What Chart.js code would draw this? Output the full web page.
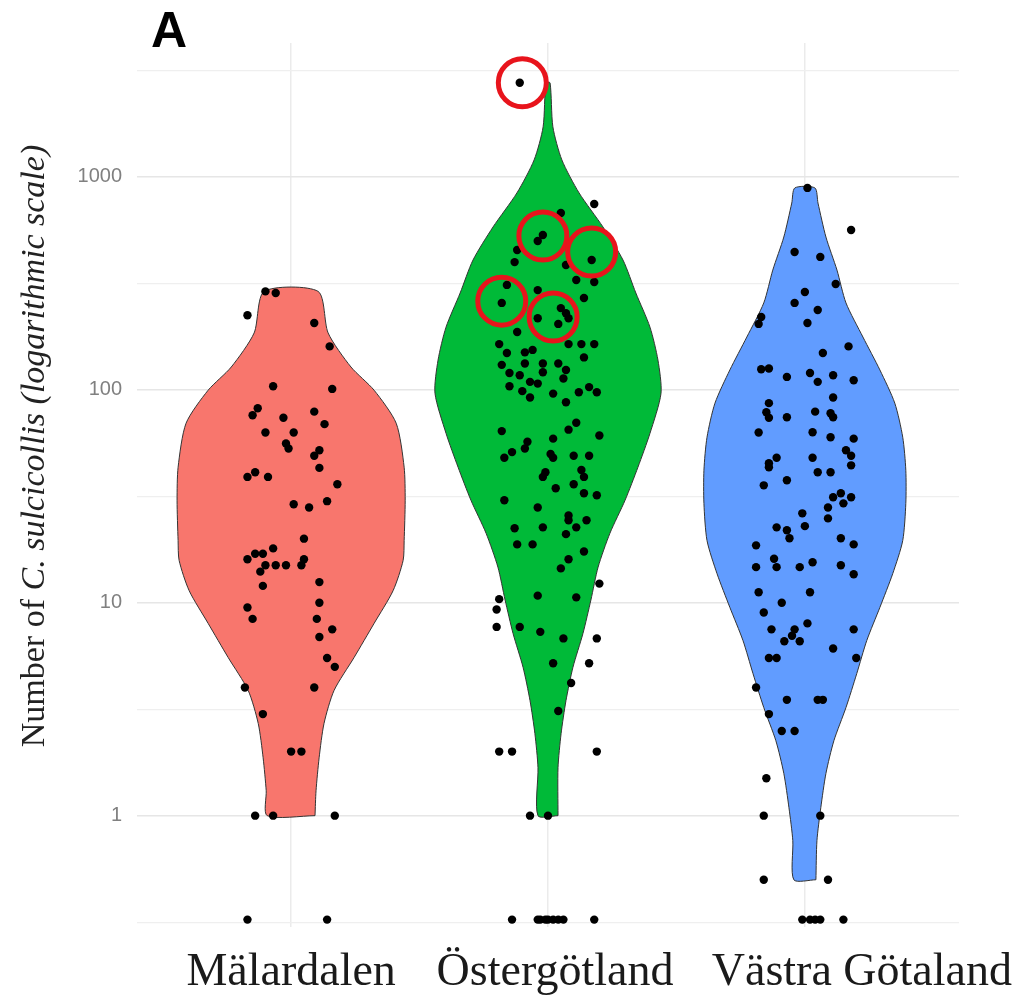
<!DOCTYPE html>
<html>
<head>
<meta charset="utf-8">
<script src="https://cdn.jsdelivr.net/npm/chart.js@4.4.1/dist/chart.umd.min.js"></script>
<style>
  html, body { margin: 0; padding: 0; background: #fff; }
  #wrap { width: 1015px; height: 995px; position: relative; }
</style>
</head>
<body>
<div id="wrap"><canvas id="violinChart"></canvas></div>
<script>
  const regions = ["Mälardalen", "Östergötland", "Västra Götaland"];
  const regionColors = ["#F8766D", "#00BA38", "#619CFF"];

  // y axis (log), limits as in the figure
  const yMin = 0.325, yMax = 4256;
  const yMajor = [1, 10, 100, 1000];
  const yMinor = [0.316, 3.16, 31.6, 316, 3162];

  // violin outlines: count level + half width (category units)
  const malLevels = [1, 1.31, 1.87, 2.71, 3.87, 5.53, 8.0, 11.4, 15.8, 19.6, 30.3, 43.3, 69.7, 99.6, 128, 185, 290];
  const malWidths = [0.093, 0.097, 0.109, 0.128, 0.167, 0.245, 0.323, 0.397, 0.436, 0.44, 0.444, 0.44, 0.409, 0.323, 0.233, 0.144, 0.105];
  const ostLevels = [1, 1.68, 2.43, 3.47, 4.97, 7.17, 10.3, 14.7, 21.2, 30.3, 43.3, 62.5, 96.4, 138, 197, 285, 407, 582, 841, 1202, 1719, 2767];
  const ostWidths = [0.039, 0.039, 0.051, 0.07, 0.097, 0.136, 0.167, 0.195, 0.241, 0.3, 0.35, 0.397, 0.44, 0.428, 0.397, 0.342, 0.292, 0.214, 0.121, 0.054, 0.019, 0.008];
  const vgLevels = [0.5, 0.763, 1.09, 1.58, 2.25, 3.22, 4.65, 6.65, 9.51, 13.7, 19.6, 29.3, 41.9, 59.9, 86.6, 124, 177, 256, 365, 522, 754, 888];
  const vgWidths = [0.043, 0.047, 0.062, 0.082, 0.113, 0.16, 0.202, 0.241, 0.292, 0.342, 0.381, 0.393, 0.393, 0.381, 0.35, 0.292, 0.226, 0.16, 0.125, 0.082, 0.051, 0.039];

  // jittered observations: horizontal jitter + count
  const malJitter = [-0.10, -0.06, -0.17, 0.09, 0.15, -0.07, 0.16, -0.13, -0.15, -0.03, 0.09, 0.13, -0.10, 0.01, -0.02, -0.01, 0.11, 0.09, 0.11, -0.17, -0.14, -0.09, 0.18, 0.01, 0.07, 0.14, 0.05, -0.17, -0.14, -0.11, -0.07, 0.05, 0.04, -0.12, -0.10, -0.06, -0.02, -0.11, 0.11, 0.11, -0.17, -0.15, 0.10, 0.16, 0.11, 0.14, 0.17, -0.18, 0.09, -0.11, 0.00, 0.04, -0.14, -0.07, 0.17, -0.17, 0.14];
  const malCounts = [290, 285, 224, 206, 160, 104, 101, 82, 76, 74, 79, 69, 63, 63, 56, 53, 52, 49, 43, 39, 41, 39, 36, 29, 28, 30, 20, 16, 17, 17, 18, 16, 15, 14, 15, 15, 15, 12, 12.5, 10, 9.5, 8.4, 8.4, 7.5, 6.9, 5.5, 5, 4, 4, 3, 2, 2, 1, 1, 1, 0, 0];

  const ostJitter = [-0.11, 0.18, 0.05, -0.02, -0.04, -0.12, -0.13, 0.17, 0.07, 0.11, 0.18, -0.16, -0.04, -0.18, 0.14, 0.05, 0.07, 0.08, -0.04, 0.04, -0.12, -0.19, -0.16, -0.09, -0.06, 0.08, 0.13, 0.18, 0.14, -0.18, -0.15, -0.09, -0.02, -0.02, 0.04, 0.07, 0.06, -0.11, -0.07, -0.04, -0.15, -0.10, -0.07, 0.02, 0.07, 0.12, 0.16, 0.19, -0.18, 0.11, 0.08, 0.20, -0.08, -0.09, 0.02, -0.14, -0.17, 0.01, 0.02, 0.10, 0.16, -0.01, -0.02, 0.13, 0.14, 0.10, 0.03, 0.14, 0.19, -0.17, -0.04, 0.08, 0.08, -0.13, -0.02, 0.15, 0.07, 0.11, -0.12, -0.06, 0.14, 0.08, 0.05, 0.20, -0.19, -0.20, -0.20, -0.04, 0.11, -0.11, -0.03, 0.06, 0.19, 0.02, 0.16, 0.09, 0.04, -0.19, -0.14, 0.19, -0.07, 0.00, -0.14, -0.04, -0.03, -0.01, 0.00, 0.02, 0.04, 0.06, 0.18];
  const ostCounts = [2767, 746, 677, 534, 500, 454, 398, 407, 386, 328, 321, 311, 294, 256, 270, 242, 229, 217, 217, 204, 187, 164, 149, 150, 154, 164, 164, 164, 142, 131, 120, 133, 133, 121, 133, 124, 113, 117, 109, 107, 104, 98.6, 92, 96, 87.5, 97.5, 103, 97.5, 64, 70, 65, 61, 57, 53, 59, 51, 48, 50, 48, 49, 49, 41, 39, 42, 39, 36, 34.5, 32.7, 32, 30.3, 28, 25.7, 24.4, 22.4, 22.6, 24.4, 21, 22.6, 18.8, 18.8, 17.4, 16, 14.5, 12.3, 10.4, 9.3, 7.7, 10.8, 10.6, 7.7, 7.3, 6.8, 6.8, 5.2, 5.2, 4.2, 3.1, 2, 2, 2, 1, 1, 0, 0, 0, 0, 0, 0, 0, 0, 0];

  const vgJitter = [0.01, 0.18, -0.04, 0.06, 0.12, 0.00, -0.04, 0.05, -0.17, -0.18, 0.01, 0.17, 0.07, -0.17, -0.14, -0.07, 0.02, 0.05, 0.11, 0.19, 0.11, -0.14, -0.15, -0.14, -0.07, 0.04, 0.10, 0.11, -0.18, 0.03, 0.10, 0.19, -0.14, -0.11, -0.14, 0.03, 0.05, 0.10, 0.16, 0.18, 0.18, -0.16, -0.07, -0.01, 0.09, 0.11, 0.14, 0.15, 0.18, 0.09, -0.11, -0.07, -0.06, 0.00, -0.19, 0.14, 0.19, -0.19, -0.12, -0.11, -0.02, 0.03, 0.14, 0.19, -0.18, 0.02, -0.09, -0.16, -0.13, -0.04, -0.05, -0.02, -0.08, 0.01, 0.19, 0.11, -0.14, -0.11, 0.20, -0.19, -0.07, 0.05, 0.07, -0.14, -0.09, -0.04, -0.15, -0.16, 0.06, -0.16, 0.09, -0.01, 0.02, 0.04, 0.06, 0.15];
  const vgCounts = [888, 563, 444, 421, 314, 288, 256, 237, 220, 204, 206, 160, 149, 125, 126, 115, 120, 109, 117, 111, 92, 86.6, 78.5, 74, 74.4, 79, 77.7, 74.4, 63, 63.2, 59.9, 59, 45.2, 48, 43.3, 48, 41, 41, 52, 49, 44.2, 35.6, 37.6, 26.3, 28, 31.3, 32.7, 29.3, 31.3, 24.9, 22.6, 21.9, 20.1, 22.9, 18.6, 20.1, 18.8, 14.7, 16.1, 14.7, 14.7, 15.5, 15, 13.6, 11.2, 11.2, 10, 9, 7.5, 7.5, 7, 6.6, 6.6, 8, 7.5, 6.1, 5.5, 5.5, 5.5, 4, 3.5, 3.5, 3.5, 3, 2.5, 2.5, 1.5, 1, 1, 0.5, 0.5, 0, 0, 0, 0, 0];

  // highlighted observations (red rings), all in Östergötland
  const ringJitter = [-0.10, -0.02, 0.17, -0.18, 0.02];
  const ringCounts = [2767, 528, 444, 261, 220];

  function violin(center, levels, widths) {
    const right = levels.map((v, i) => ({ x: center + widths[i], y: v }));
    const left = levels.map((v, i) => ({ x: center - widths[i], y: v })).reverse();
    return right.concat(left, [right[0]]);
  }

  // zero counts sit on the lower panel edge, like -Inf in ggplot
  function jittered(center, jitter, counts) {
    return counts.map((c, i) => ({ x: center + jitter[i], y: c > 0 ? c : yMin }));
  }

  const outlines = [
    violin(1, malLevels, malWidths),
    violin(2, ostLevels, ostWidths),
    violin(3, vgLevels, vgWidths)
  ];
  const points = [].concat(
    jittered(1, malJitter, malCounts),
    jittered(2, ostJitter, ostCounts),
    jittered(3, vgJitter, vgCounts)
  );
  const rings = jittered(2, ringJitter, ringCounts);

  const labelShift = [0, 7, 57];

  const decorations = {
    id: 'decorations',
    afterDraw(chart) {
      const ctx = chart.ctx;
      const xs = chart.scales.x;
      ctx.save();
      // panel tag
      ctx.fillStyle = '#000';
      ctx.font = 'bold 50px "Liberation Sans", Arial, sans-serif';
      ctx.textAlign = 'left';
      ctx.textBaseline = 'alphabetic';
      ctx.fillText('A', 151, 47);
      // category labels
      ctx.fillStyle = '#1a1a1a';
      ctx.font = '46px "Liberation Serif", "Times New Roman", serif';
      ctx.textAlign = 'center';
      regions.forEach((r, i) => {
        ctx.fillText(r, xs.getPixelForValue(i + 1) + labelShift[i], 985);
      });
      // y title, partly italic
      const plain = 'Number of ';
      const ital = 'C. sulcicollis (logarithmic scale)';
      const fPlain = '34px "Liberation Serif", "Times New Roman", serif';
      const fItal = 'italic 34px "Liberation Serif", "Times New Roman", serif';
      ctx.font = fPlain;
      const w1 = ctx.measureText(plain).width;
      ctx.font = fItal;
      const w2 = ctx.measureText(ital).width;
      ctx.translate(44, 446);
      ctx.rotate(-Math.PI / 2);
      ctx.textAlign = 'left';
      ctx.fillStyle = '#222';
      ctx.font = fPlain;
      ctx.fillText(plain, -(w1 + w2) / 2, 0);
      ctx.font = fItal;
      ctx.fillText(ital, -(w1 + w2) / 2 + w1, 0);
      ctx.restore();
    }
  };

  const datasets = outlines.map((pts, i) => ({
    type: 'line',
    data: pts,
    fill: 'shape',
    backgroundColor: regionColors[i],
    borderColor: '#333333',
    borderWidth: 1,
    pointRadius: 0,
    tension: 0.25,
    order: 3
  }));
  datasets.push({
    type: 'scatter',
    data: points,
    backgroundColor: '#000',
    borderWidth: 0,
    pointRadius: 4.2,
    clip: 0,
    order: 2
  });
  datasets.push({
    type: 'scatter',
    data: rings,
    backgroundColor: 'rgba(0,0,0,0)',
    borderColor: '#E8141C',
    borderWidth: 5,
    pointRadius: 24,
    clip: false,
    order: 1
  });

  new Chart(document.getElementById('violinChart'), {
    type: 'line',
    data: { datasets: datasets },
    plugins: [decorations],
    options: {
      responsive: true,
      maintainAspectRatio: false,
      animation: false,
      layout: { padding: { left: 0, top: 43, right: 56, bottom: 0 } },
      plugins: {
        legend: { display: false },
        tooltip: { enabled: false },
        title: { display: false }
      },
      scales: {
        x: {
          type: 'linear',
          min: 0.4,
          max: 3.6,
          afterBuildTicks: s => { s.ticks = [1, 2, 3].map(v => ({ value: v })); },
          afterFit: s => { s.height = 68; },
          ticks: { display: false },
          border: { display: false },
          grid: { color: '#ebebeb', lineWidth: 1.5, drawTicks: false }
        },
        y: {
          type: 'logarithmic',
          min: yMin,
          max: yMax,
          afterBuildTicks: s => {
            s.ticks = yMinor.concat(yMajor).sort((a, b) => a - b).map(v => ({ value: v }));
          },
          afterFit: s => { s.width = 137; },
          ticks: {
            padding: 15,
            color: '#808080',
            font: { family: '"Liberation Sans", Arial, sans-serif', size: 20 },
            callback: v => yMajor.includes(v) ? String(v) : ''
          },
          border: { display: false },
          grid: {
            drawTicks: false,
            color: ctx => yMajor.includes(ctx.tick.value) ? '#e6e6e6' : '#efefef',
            lineWidth: ctx => yMajor.includes(ctx.tick.value) ? 1.6 : 1.2
          }
        }
      }
    }
  });
</script>
</body>
</html>
